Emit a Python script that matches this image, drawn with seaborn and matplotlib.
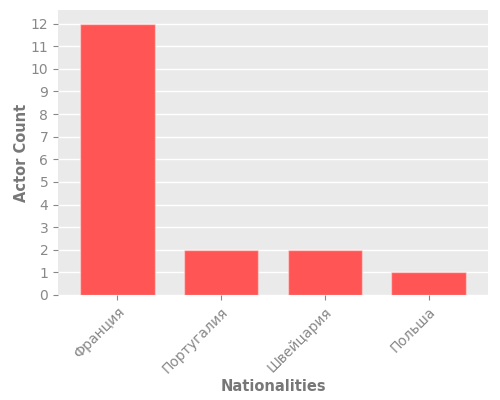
import matplotlib

matplotlib.use("Agg")
import matplotlib.pyplot as plt
import pandas as pd
import seaborn as sns

plt.style.use("ggplot")

nationalities = ["Франция", "Португалия", "Швейцария", "Польша"]
actor_counts = [12, 2, 2, 1]

BAR = "#ff5555"

df = pd.DataFrame({"nationality": nationalities, "count": actor_counts})

fig = plt.figure(figsize=(5, 4), dpi=100)
ax = fig.add_axes([0.116, 0.2625, 0.86, 0.7125])
sns.barplot(data=df, x="nationality", y="count", color=BAR, width=0.72,
            saturation=1, edgecolor=(1, 1, 1, 0.4), linewidth=1, ax=ax)
ax.set_facecolor("#eaeaea")
ax.grid(True, axis="y", color="white", lw=1)
ax.grid(False, axis="x")
ax.set_axisbelow(True)
ax.set_xlim(-0.57, 3.57)
ax.set_ylim(0, 12.6)
ax.set_yticks(range(0, 13))
ax.tick_params(colors="#888888", labelsize=10)
plt.setp(ax.get_xticklabels(), rotation=45, ha="right", rotation_mode="anchor")
ax.set_xlabel("Nationalities", fontsize=10.5, fontweight="bold", color="#777777",
              labelpad=2)
ax.set_ylabel("Actor Count", fontsize=10.5, fontweight="bold", color="#777777",
              labelpad=1)
for s in ax.spines.values():
    s.set_visible(False)
fig.savefig("out.png", dpi=100)
